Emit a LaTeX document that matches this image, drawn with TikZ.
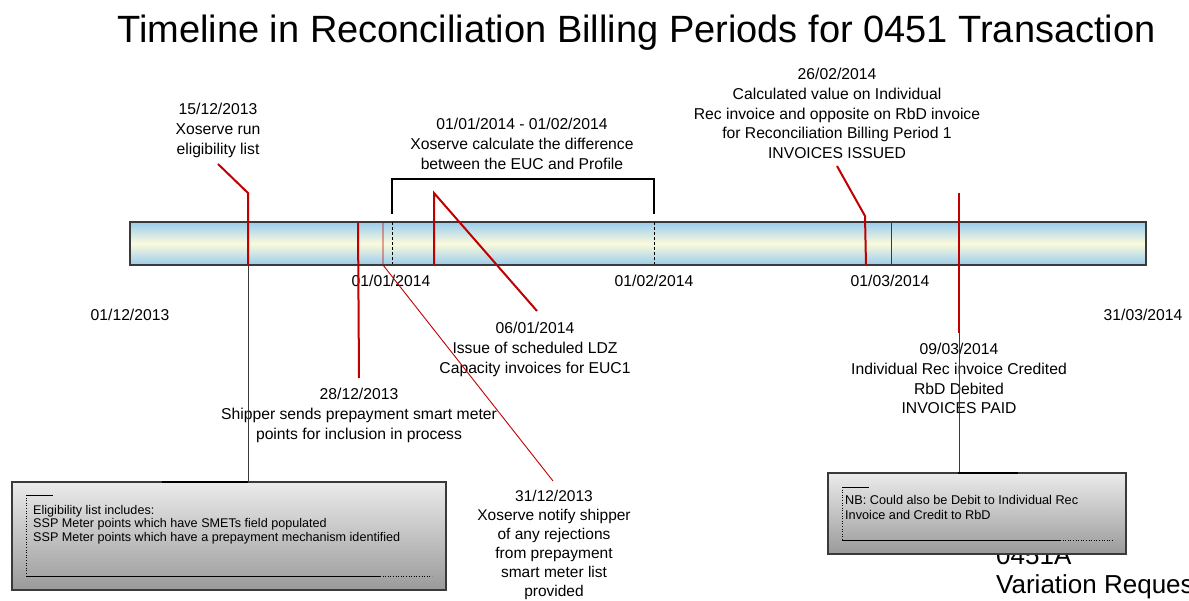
\documentclass[tikz,border=0pt]{standalone}
\usepackage{fontspec}
\setmainfont{Liberation Sans}
\definecolor{lnred}{HTML}{C00000}
\definecolor{barblue}{HTML}{9ACDEE}
\definecolor{barcream}{HTML}{FBFADC}
\definecolor{boxtop}{HTML}{EBEBEB}
\definecolor{boxbot}{HTML}{9A9A9A}
\definecolor{edge}{HTML}{3A3A3A}
\begin{document}
\begin{tikzpicture}[x=1pt,y=-1pt,
  lbl/.style={align=center,inner sep=0pt,anchor=north,font=\fontsize{15.7}{19.8}\selectfont},
  datelbl/.style={inner sep=0pt,anchor=north,font=\fontsize{15.7}{19.8}\selectfont},
  redln/.style={draw=lnred,line width=2pt},
  thinred/.style={draw=lnred,line width=0.9pt},
  blkln/.style={draw=edge,line width=1pt},
  brk/.style={draw=black,line width=2pt},
  dashln/.style={draw=black,line width=1pt,dash pattern=on 3pt off 2pt},
  timebar/.style={draw=edge,line width=1.5pt,rectangle,inner sep=0pt,
    top color=barblue,bottom color=barblue,middle color=barcream},
  notebox/.style={draw=edge,line width=1.5pt,rectangle,inner sep=0pt,
    top color=boxtop,bottom color=boxbot},
  boxtxt/.style={align=left,inner sep=0pt,anchor=north west},
  frm/.style={draw=black,line width=0.8pt},
  frmdot/.style={draw=black,line width=0.6pt,dotted}]
\useasboundingbox (0,0) rectangle (1189,601);

% title
\node[inner sep=0pt,anchor=base,font=\fontsize{38}{40}\selectfont] (title) at (636.5,43)
  {Timeline in Reconciliation Billing Periods for 0451 Transaction};

% background text bottom right (runs off the right edge)
\node[inner sep=0pt,anchor=base west,font=\fontsize{26}{28}\selectfont] (vrnum) at (996,564) {0451A};
\node[inner sep=0pt,anchor=base west,font=\fontsize{26}{28}\selectfont] (vrtxt) at (996,593) {Variation Request};

% time bar
\node[timebar,minimum width=1016pt,minimum height=43pt] (bar) at (638,243.5) {};

% bracket 01/01 - 01/02
\coordinate (bA) at (392,214);
\coordinate (bB) at (392,179);
\coordinate (bC) at (654,179);
\coordinate (bD) at (654,214);
\draw[brk] (bA) -- (bB) -- (bC) -- (bD);
\coordinate (d1t) at (392,222.5);
\coordinate (d1b) at (392,264.5);
\coordinate (d2t) at (654,222.5);
\coordinate (d2b) at (654,264.5);
\draw[dashln] (d1t) -- (d1b);
\draw[dashln] (d2t) -- (d2b);

% month marker 01/03
\coordinate (m3t) at (891,222.5);
\coordinate (m3b) at (891,264.5);
\draw[draw=edge,line width=0.8pt] (m3t) -- (m3b);

% date labels on bar
\node[datelbl] (jan) at (391,275) {01/01/2014};
\node[datelbl] (feb) at (654,275) {01/02/2014};
\node[datelbl] (mar) at (890,275) {01/03/2014};
\node[datelbl] (dec) at (130,309) {01/12/2013};
\node[datelbl] (end) at (1143,309) {31/03/2014};

% boxes
\node[notebox,minimum width=434pt,minimum height=108pt] (box1) at (229,536) {};
\draw[draw=black,line width=2pt] (162,482) -- (248,482);
\draw[frm] (26,495) -- (53,495);
\draw[frmdot] (26,495) -- (26,576);
\draw[frm] (26,576) -- (380,576);
\draw[frmdot] (380,576) -- (432,576);
\node[boxtxt,font=\fontsize{12.6}{13.4}\selectfont] (box1txt) at (33,505)
  {Eligibility list includes:\\SSP Meter points which have SMETs field populated\\SSP Meter points which have a prepayment mechanism identified};

\node[notebox,minimum width=298pt,minimum height=81pt] (box2) at (977,513.5) {};
\draw[draw=black,line width=2pt] (958,473) -- (1018,473);
\draw[frm] (842,487) -- (869,487);
\draw[frmdot] (842,487) -- (842,540);
\draw[frm] (842,540) -- (1060,540);
\draw[frmdot] (1060,540) -- (1113,540);
\node[boxtxt,font=\fontsize{12.7}{15}\selectfont] (box2txt) at (845,495)
  {NB: Could also be Debit to Individual Rec\\Invoice and Credit to RbD};

% event labels
\node[lbl] (ev1) at (218,103) {15/12/2013\\Xoserve run\\eligibility list};
\node[lbl] (ev2) at (522,118) {01/01/2014 - 01/02/2014\\Xoserve calculate the difference\\between the EUC and Profile};
\node[lbl] (ev3) at (837,68) {26/02/2014\\Calculated value on Individual\\Rec invoice and opposite on RbD invoice\\for Reconciliation Billing Period 1\\INVOICES ISSUED};
\node[lbl] (ev4) at (535,322) {06/01/2014\\Issue of scheduled LDZ\\Capacity invoices for EUC1};
\node[lbl] (ev5) at (359,388) {28/12/2013\\Shipper sends prepayment smart meter\\points for inclusion in process};
\node[lbl,font=\fontsize{15.5}{19.1}\selectfont] (ev6) at (554,490) {31/12/2013\\Xoserve notify shipper\\of any rejections\\from prepayment\\smart meter list\\provided};
\node[lbl] (ev7) at (959,343) {09/03/2014\\Individual Rec invoice Credited\\RbD Debited\\INVOICES PAID};

% connectors
% 15/12
\coordinate (c1a) at (218,164);
\coordinate (c1b) at (248,193);
\coordinate (c1c) at (248,265);
\draw[redln] (c1a) -- (c1b) -- (c1c);
\draw[blkln] (c1c) -- (c1c |- box1.north);
% 28/12
\coordinate (c2a) at (358,222.5);
\coordinate (c2b) at (359,378);
\draw[redln] (c2a) -- (c2b);
% 31/12
\coordinate (c3a) at (383,222.5);
\coordinate (c3b) at (383,265);
\coordinate (c3c) at (553,481);
\draw[thinred] (c3a) -- (c3b) -- (c3c);
% 06/01
\coordinate (c4a) at (434,265);
\coordinate (c4b) at (434,193);
\coordinate (c4c) at (537,311);
\draw[redln] (c4a) -- (c4b) -- (c4c);
% 26/02
\coordinate (c5a) at (837,166);
\coordinate (c5b) at (865,216);
\coordinate (c5c) at (866,265);
\draw[redln] (c5a) -- (c5b) -- (c5c);
% 09/03
\coordinate (c6a) at (959,193);
\coordinate (c6b) at (959,333);
\draw[redln] (c6a) -- (c6b);
\draw[blkln] (c6b) -- (c6b |- box2.north);
\end{tikzpicture}
\end{document}
